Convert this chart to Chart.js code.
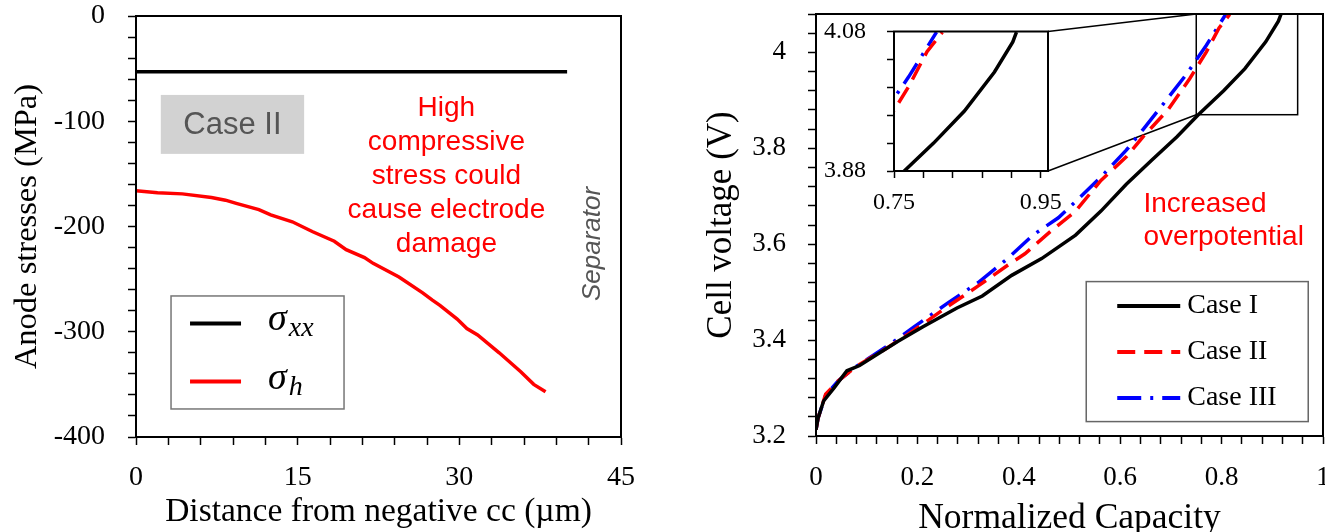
<!DOCTYPE html>
<html>
<head>
<meta charset="utf-8">
<script src="https://cdn.jsdelivr.net/npm/chart.js@4.4.0/dist/chart.umd.min.js"></script>
<style>
html, body { margin: 0; padding: 0; overflow: hidden; background: #fff; width: 1325px; height: 532px; }
#wrap { position: relative; width: 1325px; height: 532px; overflow: hidden; }
#c1 { position: absolute; left: 0; top: 0; }
#c2 { position: absolute; left: 660px; top: 0; }
#c3 { position: absolute; left: 800px; top: 0; z-index: 2; }
</style>
</head>
<body>
<div id="wrap">
  <canvas id="c1" width="660" height="532"></canvas>
  <canvas id="c2" width="720" height="532"></canvas>
  <canvas id="c3" width="270" height="230"></canvas>
</div>
<script>
// ---- left panel: anode stresses, Case II ----
const xxDist = [0, 40];
const sigmaXX = [-53, -53];
const hDist = [0, 2, 4.3, 7, 8.3, 9.3, 11.4, 12.5, 14.5, 16.4, 18.4, 19.5, 21.2, 22, 24.4, 26.6, 27.5, 28.2, 29.8, 30.7, 31.7, 33.7, 35.7, 36.9, 38];
const sigmaH = [-166, -168, -169, -172.5, -175, -178, -184, -189, -195.5, -205, -214, -222, -229.5, -235, -248, -263, -270, -275, -288, -297, -303, -320, -338, -350, -357];
const leftXLabels = [0, 15, 30, 45];
const leftYLabels = [0, -100, -200, -300, -400];

// ---- right panel: cell voltage vs normalized capacity ----
const cap1 = [0, 0.004, 0.015, 0.036, 0.061, 0.086, 0.128, 0.161, 0.211, 0.278, 0.328, 0.386, 0.445, 0.512, 0.562, 0.612, 0.662, 0.712, 0.754, 0.804, 0.846, 0.887, 0.912, 0.917];
const volt1 = [3.213, 3.237, 3.273, 3.301, 3.336, 3.347, 3.375, 3.397, 3.428, 3.467, 3.492, 3.535, 3.57, 3.619, 3.669, 3.725, 3.775, 3.824, 3.87, 3.92, 3.966, 4.022, 4.065, 4.079];
const cap2 = [0, 0.004, 0.019, 0.044, 0.078, 0.144, 0.194, 0.261, 0.32, 0.378, 0.412, 0.462, 0.512, 0.562, 0.612, 0.645, 0.695, 0.737, 0.77, 0.795, 0.816];
const volt2 = [3.213, 3.237, 3.287, 3.315, 3.344, 3.386, 3.421, 3.471, 3.513, 3.556, 3.58, 3.626, 3.669, 3.733, 3.782, 3.824, 3.881, 3.945, 4.001, 4.051, 4.079];
const cap3 = [0, 0.004, 0.019, 0.044, 0.078, 0.144, 0.194, 0.261, 0.32, 0.378, 0.428, 0.478, 0.52, 0.562, 0.612, 0.645, 0.687, 0.729, 0.77, 0.808];
const volt3 = [3.213, 3.237, 3.285, 3.315, 3.344, 3.39, 3.428, 3.478, 3.52, 3.57, 3.619, 3.655, 3.697, 3.74, 3.796, 3.839, 3.895, 3.952, 4.015, 4.079];
const caseNames = ['Case I', 'Case II', 'Case III'];
const rightXLabels = [0, 0.2, 0.4, 0.6, 0.8, 1];
const rightYLabels = [3.2, 3.4, 3.6, 3.8, 4];
const insetXTicks = [0.75, 0.79, 0.83, 0.87, 0.91, 0.95];
const insetXLabels = [0.75, 0.95];
const insetYTicks = [3.88, 3.92, 3.96, 4.0, 4.04, 4.08];
const insetYLabels = [3.88, 4.08];

const SERIF = '"Liberation Serif", "Times New Roman", serif';
const SANS = '"Liberation Sans", Arial, sans-serif';

function pts(xs, ys) {
  return xs.map((x, i) => ({x: x, y: ys[i]}));
}
function fmt(v) {
  return String(+(+v).toFixed(2));
}
function labelIf(list) {
  return function(v) {
    return list.some(l => Math.abs(l - v) < 1e-6) ? fmt(v) : '';
  };
}
function setTicks(list) {
  return function(scale) { scale.ticks = list.map(v => ({value: v})); };
}
// fix axis box size, drop the label overflow padding (layout padding does it)
function fixSize(w, h) {
  return function(s) {
    if (w) s.width = w;
    if (h) s.height = h;
    s.paddingTop = 0; s.paddingBottom = 0; s.paddingLeft = 0; s.paddingRight = 0;
  };
}

// top + right border of the plot box
const framePlugin = {
  id: 'frame',
  afterDraw(chart, args, opts) {
    const a = chart.chartArea, ctx = chart.ctx;
    ctx.save();
    ctx.strokeStyle = '#000';
    ctx.lineWidth = opts.width || 2;
    ctx.strokeRect(a.left, a.top, a.right - a.left, a.bottom - a.top);
    ctx.restore();
  }
};

const styles = [
  {color: '#000000', dash: []},
  {color: '#ff0000', dash: [18, 9]},
  {color: '#0000ff', dash: [24, 9, 3, 9]}
];

function axisBase(tickFont, pad, tickLen) {
  return {
    grid: {drawOnChartArea: false, drawTicks: true, tickLength: tickLen, color: '#000', tickWidth: 1.5},
    border: {display: true, color: '#000', width: 2},
    ticks: {autoSkip: false, maxRotation: 0, color: '#000', padding: pad, font: {family: SERIF, size: tickFont}}
  };
}

// ================= LEFT CHART =================
const leftAnno = {
  id: 'leftAnno',
  afterDraw(chart) {
    const ctx = chart.ctx, sx = chart.scales.x, sy = chart.scales.y;
    ctx.save();
    // Case II box
    const bx = sx.getPixelForValue(2.3), by = sy.getPixelForValue(-75);
    const bw = sx.getPixelForValue(15.6) - bx, bh = sy.getPixelForValue(-131) - by;
    ctx.fillStyle = '#d2d2d2';
    ctx.fillRect(bx, by, bw, bh);
    ctx.fillStyle = '#555';
    ctx.font = '31px ' + SANS;
    ctx.textAlign = 'center';
    ctx.textBaseline = 'middle';
    ctx.fillText('Case II', bx + bw / 2, by + bh / 2 + 1);

    // red note
    const note = ['High', 'compressive', 'stress could', 'cause electrode', 'damage'];
    ctx.fillStyle = '#ff0000';
    ctx.font = '28px ' + SANS;
    const nx = sx.getPixelForValue(28.8), ny = sy.getPixelForValue(-88);
    note.forEach((t, i) => ctx.fillText(t, nx, ny + i * 33.8));

    // Separator
    ctx.save();
    ctx.translate(sx.getPixelForValue(42.4), sy.getPixelForValue(-216.6));
    ctx.rotate(-Math.PI / 2);
    ctx.fillStyle = '#555';
    ctx.font = 'italic 26px ' + SANS;
    ctx.fillText('Separator', 0, 0);
    ctx.restore();

    // legend
    const lx = sx.getPixelForValue(3.25), ly = sy.getPixelForValue(-266);
    ctx.fillStyle = '#fff';
    ctx.fillRect(lx, ly, 173, 113);
    ctx.strokeStyle = '#777';
    ctx.lineWidth = 1.5;
    ctx.strokeRect(lx, ly, 173, 113);
    const ds = chart.data.datasets;
    const subs = ['xx', 'h'];
    [27.5, 85.6].forEach((dy, i) => {
      ctx.strokeStyle = ds[i].borderColor;
      ctx.lineWidth = 4;
      ctx.beginPath();
      ctx.moveTo(lx + 19, ly + dy);
      ctx.lineTo(lx + 70, ly + dy);
      ctx.stroke();
      ctx.fillStyle = '#000';
      ctx.textAlign = 'left';
      ctx.textBaseline = 'alphabetic';
      ctx.font = 'italic 38px ' + SERIF;
      ctx.fillText('σ', lx + 97, ly + dy + 7);
      const w = ctx.measureText('σ').width;
      ctx.font = 'italic 28px ' + SERIF;
      ctx.fillText(subs[i], lx + 99 + w, ly + dy + 13);
    });
    ctx.restore();
  }
};

const leftX = axisBase(28, 16.2, 8);
leftX.type = 'linear';
leftX.min = 0; leftX.max = 45;
leftX.ticks.stepSize = 3;
leftX.ticks.callback = labelIf(leftXLabels);
leftX.title = {display: true, text: 'Distance from negative cc (µm)', color: '#000',
  font: {family: SERIF, size: 33.5}, padding: {top: 4, bottom: 0}};
leftX.afterFit = fixSize(0, 95);

const leftY = axisBase(28, 23, 8);
leftY.min = -400; leftY.max = 0;
leftY.ticks.stepSize = 20;
leftY.ticks.callback = labelIf(leftYLabels);
leftY.title = {display: true, text: 'Anode stresses (MPa)', color: '#000',
  font: {family: SERIF, size: 32.5}, padding: {top: 8, bottom: 0}};
leftY.afterFit = fixSize(136, 0);

new Chart(document.getElementById('c1'), {
  type: 'line',
  data: {
    datasets: [
      {label: 'σxx', data: pts(xxDist, sigmaXX), borderColor: '#000', borderWidth: 3.5, pointRadius: 0},
      {label: 'σh', data: pts(hDist, sigmaH), borderColor: '#ff0000', borderWidth: 3.5, pointRadius: 0}
    ]
  },
  options: {
    responsive: false,
    animation: false,
    layout: {padding: {top: 16, right: 39, left: 0, bottom: 0}},
    plugins: {legend: {display: false}, tooltip: {enabled: false}, frame: {width: 2}},
    scales: {x: leftX, y: leftY}
  },
  plugins: [framePlugin, leftAnno]
});

// ================= INSET =================
function caseSets(width) {
  return [pts(cap1, volt1), pts(cap2, volt2), pts(cap3, volt3)].map((d, i) => ({
    label: caseNames[i], data: d, borderColor: styles[i].color, borderDash: styles[i].dash,
    borderWidth: width, pointRadius: 0, clip: 0
  }));
}

const insetBg = {
  id: 'insetBg',
  beforeDraw(chart) {
    const a = chart.chartArea, ctx = chart.ctx;
    ctx.save();
    ctx.fillStyle = '#fff';
    ctx.fillRect(a.left, a.top, a.right - a.left, a.bottom - a.top);
    ctx.restore();
  }
};

const inX = axisBase(24, 10.5, 7);
inX.type = 'linear';
inX.min = 0.75; inX.max = 0.96;
inX.afterBuildTicks = setTicks(insetXTicks);
inX.ticks.callback = labelIf(insetXLabels);
inX.afterFit = fixSize(0, 59);
const inY = axisBase(24, 21, 7);
inY.min = 3.88; inY.max = 4.08;
inY.afterBuildTicks = setTicks(insetYTicks);
inY.ticks.callback = labelIf(insetYLabels);
inY.afterFit = fixSize(94, 0);

const insetChart = new Chart(document.getElementById('c3'), {
  type: 'line',
  data: {datasets: caseSets(3.5)},
  options: {
    responsive: false,
    animation: false,
    layout: {padding: {top: 31.5, right: 22, left: 0, bottom: 0}},
    plugins: {legend: {display: false}, tooltip: {enabled: false}, frame: {width: 2}},
    scales: {x: inX, y: inY}
  },
  plugins: [insetBg, framePlugin]
});

// ================= RIGHT CHART =================
const rightAnno = {
  id: 'rightAnno',
  beforeDatasetsDraw(chart) {
    const ctx = chart.ctx, sx = chart.scales.x, sy = chart.scales.y;
    // zoom rectangle and connectors to the inset
    const rx = sx.getPixelForValue(0.75), rr = sx.getPixelForValue(0.95);
    const rt = sy.getPixelForValue(4.08), rb = sy.getPixelForValue(3.87);
    ctx.save();
    ctx.strokeStyle = '#000';
    ctx.lineWidth = 1.5;
    ctx.strokeRect(rx, rt, rr - rx, rb - rt);
    const off = insetChart.canvas.offsetLeft - chart.canvas.offsetLeft;
    const ia = insetChart.chartArea;
    ctx.beginPath();
    ctx.moveTo(ia.right + off, ia.top);
    ctx.lineTo(rx, rt);
    ctx.moveTo(ia.right + off, ia.bottom);
    ctx.lineTo(rx, rb);
    ctx.stroke();
    ctx.restore();
  },
  afterDraw(chart) {
    const ctx = chart.ctx, sx = chart.scales.x, sy = chart.scales.y;
    ctx.save();
    ctx.fillStyle = '#ff0000';
    ctx.font = '28px ' + SANS;
    ctx.textAlign = 'left';
    ctx.textBaseline = 'middle';
    const tx = sx.getPixelForValue(0.646), ty = sy.getPixelForValue(3.683);
    ctx.fillText('Increased', tx, ty);
    ctx.fillText('overpotential', tx, ty + 32.5);

    // legend
    const lx = sx.getPixelForValue(0.533), ly = sy.getPixelForValue(3.522);
    ctx.fillStyle = '#fff';
    ctx.fillRect(lx, ly, 222, 140);
    ctx.strokeStyle = '#666';
    ctx.lineWidth = 1.5;
    ctx.strokeRect(lx, ly, 222, 140);
    chart.data.datasets.forEach((d, i) => {
      const yy = ly + 24.4 + i * 46;
      ctx.strokeStyle = d.borderColor;
      ctx.setLineDash(d.borderDash);
      ctx.lineWidth = 4;
      ctx.beginPath();
      ctx.moveTo(lx + 31, yy);
      ctx.lineTo(lx + 94, yy);
      ctx.stroke();
      ctx.setLineDash([]);
      ctx.fillStyle = '#000';
      ctx.font = '28px ' + SERIF;
      ctx.fillText(d.label, lx + 101, yy);
    });
    ctx.restore();
  }
};

const rX = axisBase(27, 17.8, 8);
rX.type = 'linear';
rX.min = 0; rX.max = 1;
rX.ticks.stepSize = 0.04;
rX.ticks.callback = labelIf(rightXLabels);
rX.title = {display: true, text: 'Normalized Capacity', color: '#000',
  font: {family: SERIF, size: 35.5, lineHeight: 0.75}, padding: {top: 1, bottom: 0}};
rX.afterFit = fixSize(0, 96);

const rY = axisBase(27, 22, 8);
rY.min = 3.2; rY.max = 4.08;
rY.ticks.stepSize = 0.04;
rY.ticks.callback = labelIf(rightYLabels);
rY.title = {display: true, text: 'Cell voltage (V)', color: '#000',
  font: {family: SERIF, size: 35}, padding: {top: 40.5, bottom: 0}};
rY.afterFit = fixSize(156, 0);

new Chart(document.getElementById('c2'), {
  type: 'line',
  data: {datasets: caseSets(3.5)},
  options: {
    responsive: false,
    animation: false,
    layout: {padding: {top: 14, right: 57, left: 0, bottom: 0}},
    plugins: {legend: {display: false}, tooltip: {enabled: false}, frame: {width: 2}},
    scales: {x: rX, y: rY}
  },
  plugins: [framePlugin, rightAnno]
});
</script>
</body>
</html>
